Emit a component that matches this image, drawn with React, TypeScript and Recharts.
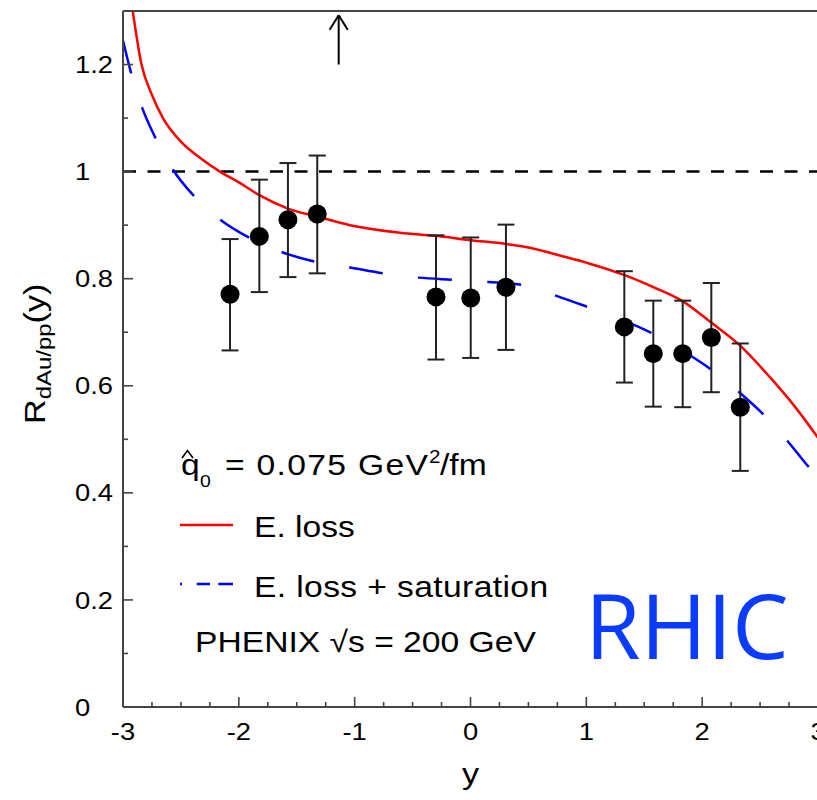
import React from "react";
import {
  ComposedChart,
  Line,
  Scatter,
  ErrorBar,
  XAxis,
  YAxis,
  ReferenceLine,
} from "recharts";

// tick positions (majors every 1 / 0.2, minors every 0.25 / 0.1)
const xTicks = [
  -3, -2.75, -2.5, -2.25, -2, -1.75, -1.5, -1.25, -1, -0.75, -0.5, -0.25, 0,
  0.25, 0.5, 0.75, 1, 1.25, 1.5, 1.75, 2, 2.25, 2.5, 2.75, 3,
];
const yTicks = [0, 0.1, 0.2, 0.3, 0.4, 0.5, 0.6, 0.7, 0.8, 0.9, 1, 1.1, 1.2];

// PHENIX points
const phenixY = [-2.076, -1.823, -1.576, -1.323, -0.298, 0.002, 0.306, 1.328, 1.578, 1.832, 2.079, 2.329];
const phenixR = [0.771, 0.879, 0.91, 0.921, 0.766, 0.764, 0.784, 0.71, 0.66, 0.66, 0.69, 0.56];
const phenixLow = [0.666, 0.775, 0.803, 0.81, 0.649, 0.652, 0.667, 0.606, 0.561, 0.56, 0.588, 0.441];
const phenixHigh = [0.874, 0.985, 1.016, 1.03, 0.881, 0.877, 0.901, 0.814, 0.759, 0.759, 0.792, 0.679];

// E. loss curve
const elossY = [-2.916, -2.84, -2.75, -2.655, -2.5, -2.33, -2.163, -2.0, -1.823, -1.576, -1.323, -1.04, -0.609, -0.3, 0, 0.305, 0.454, 0.83, 1.03, 1.326, 1.58, 1.83, 2.078, 2.328, 2.585, 2.8, 3.0];
const elossR = [1.3, 1.2, 1.143, 1.1, 1.056, 1.025, 1.0, 0.98, 0.956, 0.931, 0.916, 0.9, 0.886, 0.88, 0.872, 0.865, 0.86, 0.84, 0.828, 0.807, 0.784, 0.758, 0.718, 0.675, 0.616, 0.561, 0.503];

// E. loss + saturation curve
const satY = [-3.0, -2.93, -2.836, -2.72, -2.57, -2.39, -2.16, -1.906, -1.62, -1.345, -1.04, -0.755, -0.447, -0.15, 0.152, 0.454, 0.742, 1.0, 1.31, 1.577, 1.836, 2.08, 2.325, 2.54, 2.74, 2.93, 3.0];
const satR = [1.245, 1.184, 1.12, 1.063, 1.004, 0.955, 0.91, 0.876, 0.849, 0.832, 0.821, 0.81, 0.802, 0.798, 0.794, 0.788, 0.768, 0.748, 0.723, 0.697, 0.665, 0.63, 0.587, 0.544, 0.496, 0.446, 0.43];

const legendNames = ["E. loss", "E. loss + saturation"];

const points = phenixY.map((x, i) => ({
  x,
  y: phenixR[i],
  err: [phenixR[i] - phenixLow[i], phenixHigh[i] - phenixR[i]],
}));
const elossData = elossY.map((x, i) => ({ x, y: elossR[i] }));
const satData = satY.map((x, i) => ({ x, y: satR[i] }));

const FONT = "'Liberation Sans', Arial, Helvetica, sans-serif";
const SX = 1.14;
const AXIS = "#444";

const majorX = (v: number) => Math.abs(v - Math.round(v)) < 1e-6;
const majorY = (v: number) => Math.abs(v * 5 - Math.round(v * 5)) < 1e-6;

function BottomTick(props: any) {
  const { x, y, payload } = props;
  const v = payload.value;
  const big = majorX(v);
  return (
    <g>
      <line x1={x} x2={x} y1={y} y2={y - (big ? 10 : 5)} stroke={AXIS} strokeWidth={1.6} />
      {big && (
        <text
          transform={`translate(${x},740) scale(${SX},1)`}
          textAnchor="middle"
          fontSize={24}
          fontFamily={FONT}
          fill="#000"
        >
          {v}
        </text>
      )}
    </g>
  );
}

function TopTick(props: any) {
  const { x, y, payload } = props;
  const big = majorX(payload.value);
  return <line x1={x} x2={x} y1={y} y2={y + (big ? 10 : 5)} stroke={AXIS} strokeWidth={1.6} />;
}

function LeftTick(props: any) {
  const { x, y, payload } = props;
  const v = payload.value;
  const big = majorY(v);
  return (
    <g>
      <line x1={x} x2={x + (big ? 10 : 5)} y1={y} y2={y} stroke={AXIS} strokeWidth={1.6} />
      {big && (
        <text
          transform={`translate(75,${y + 8.6}) scale(${SX},1)`}
          textAnchor="start"
          fontSize={24}
          fontFamily={FONT}
          fill="#000"
        >
          {Math.round(v * 10) / 10}
        </text>
      )}
    </g>
  );
}

function RightTick(props: any) {
  const { x, y, payload } = props;
  const big = majorY(payload.value);
  return <line x1={x} x2={x - (big ? 10 : 5)} y1={y} y2={y} stroke={AXIS} strokeWidth={1.6} />;
}

const Dot = (props: any) => <circle cx={props.cx} cy={props.cy} r={9.5} fill="#000" />;

function Overlay() {
  const t = (x: number, y: number) => `translate(${x},${y}) scale(${SX},1)`;
  return (
    <svg
      width={817}
      height={800}
      style={{ position: "absolute", left: 0, top: 0, pointerEvents: "none" }}
      fontFamily={FONT}
    >
      {/* q-hat_0 = 0.075 GeV^2/fm */}
      <polyline points="182,458 187.5,450.5 193,458" fill="none" stroke="#000" strokeWidth={1.6} />
      <text transform={t(181, 475)} fontSize={29.5}>q</text>
      <text transform={t(200, 486.7)} fontSize={17}>0</text>
      <text transform={t(225, 475)} fontSize={29.5} textLength={178} lengthAdjust="spacing">
        = 0.075 GeV
      </text>
      <text transform={t(429, 463)} fontSize={18}>2</text>
      <text transform={t(440, 475)} fontSize={29.5}>/fm</text>

      <line x1={180} x2={233} y1={525} y2={525} stroke="#ff0000" strokeWidth={2.5} />
      <text transform={t(254, 537)} fontSize={29.5}>{legendNames[0]}</text>
      <line
        x1={180}
        x2={233}
        y1={584}
        y2={584}
        stroke="#0000ff"
        strokeWidth={2.5}
        strokeDasharray="2 14.7 13.3 8.3 14.7"
      />
      <text transform={t(254, 597)} fontSize={29.5} textLength={258} lengthAdjust="spacing">
        {legendNames[1]}
      </text>
      <text transform={t(195, 652)} fontSize={29.5}>PHENIX √s = 200 GeV</text>

      <text x={585} y={659} fontSize={90} fontFamily="'Open Sans', sans-serif" fill="#0a3cff">
        RHIC
      </text>

      <text transform={t(470.5, 784)} fontSize={30} textAnchor="middle">y</text>

      <text transform={`translate(45,424) rotate(-90) scale(${SX},1)`} fontSize={30}>
        R
        <tspan fontSize={21} dy={6}>dAu/pp</tspan>
        <tspan fontSize={30} dy={-6}>(y)</tspan>
      </text>
    </svg>
  );
}

export default function App() {
  return (
    <div
      style={{
        position: "absolute",
        left: 0,
        top: 0,
        width: 817,
        height: 800,
        overflow: "hidden",
        background: "#fff",
      }}
    >
      <ComposedChart
        width={819}
        height={800}
        margin={{ top: 10, right: 0, bottom: 63, left: 93 }}
      >
        <XAxis
          xAxisId="b"
          dataKey="x"
          type="number"
          domain={[-3, 3]}
          ticks={xTicks}
          interval={0}
          height={30}
          tickSize={0}
          tickMargin={0}
          tickLine={false}
          tick={(p: any) => <BottomTick {...p} />}
          axisLine={{ stroke: AXIS, strokeWidth: 2 }}
          allowDataOverflow
        />
        <XAxis
          xAxisId="t"
          orientation="top"
          type="number"
          domain={[-3, 3]}
          ticks={xTicks}
          interval={0}
          height={1}
          tickSize={0}
          tickMargin={0}
          tickLine={false}
          tick={(p: any) => <TopTick {...p} />}
          axisLine={{ stroke: AXIS, strokeWidth: 2 }}
        />
        <YAxis
          yAxisId="l"
          type="number"
          domain={[0, 1.3]}
          ticks={yTicks}
          interval={0}
          width={30}
          tickSize={0}
          tickMargin={0}
          tickLine={false}
          tick={(p: any) => <LeftTick {...p} />}
          axisLine={{ stroke: AXIS, strokeWidth: 2 }}
          allowDataOverflow
        />
        <YAxis
          yAxisId="r"
          orientation="right"
          type="number"
          domain={[0, 1.3]}
          ticks={yTicks}
          interval={0}
          width={1}
          tickSize={0}
          tickMargin={0}
          tickLine={false}
          tick={(p: any) => <RightTick {...p} />}
          axisLine={{ stroke: AXIS, strokeWidth: 2 }}
        />

        <ReferenceLine xAxisId="b" yAxisId="l" y={1} stroke="#000" strokeWidth={2.5} strokeDasharray="13 11.5" />

        {/* arrow near the top */}
        <ReferenceLine
          xAxisId="b"
          yAxisId="l"
          segment={[{ x: -1.138, y: 1.2 }, { x: -1.138, y: 1.292 }]}
          stroke="#000"
          strokeWidth={2}
        />
        <ReferenceLine
          xAxisId="b"
          yAxisId="l"
          segment={[{ x: -1.216, y: 1.265 }, { x: -1.138, y: 1.292 }]}
          stroke="#000"
          strokeWidth={2}
        />
        <ReferenceLine
          xAxisId="b"
          yAxisId="l"
          segment={[{ x: -1.06, y: 1.265 }, { x: -1.138, y: 1.292 }]}
          stroke="#000"
          strokeWidth={2}
        />

        <Line
          xAxisId="b"
          yAxisId="l"
          data={elossData}
          dataKey="y"
          type="monotone"
          stroke="#ff0000"
          strokeWidth={2.5}
          dot={false}
          activeDot={false}
          isAnimationActive={false}
        />
        <Line
          xAxisId="b"
          yAxisId="l"
          data={satData}
          dataKey="y"
          type="monotone"
          stroke="#0000ff"
          strokeWidth={2.5}
          strokeDasharray="34 35.5"
          dot={false}
          activeDot={false}
          isAnimationActive={false}
        />
        <Scatter
          xAxisId="b"
          yAxisId="l"
          data={points}
          dataKey="y"
          shape={Dot}
          isAnimationActive={false}
        >
          <ErrorBar dataKey="err" direction="y" width={8.5} stroke="#222" strokeWidth={2} />
        </Scatter>
      </ComposedChart>
      <Overlay />
    </div>
  );
}
